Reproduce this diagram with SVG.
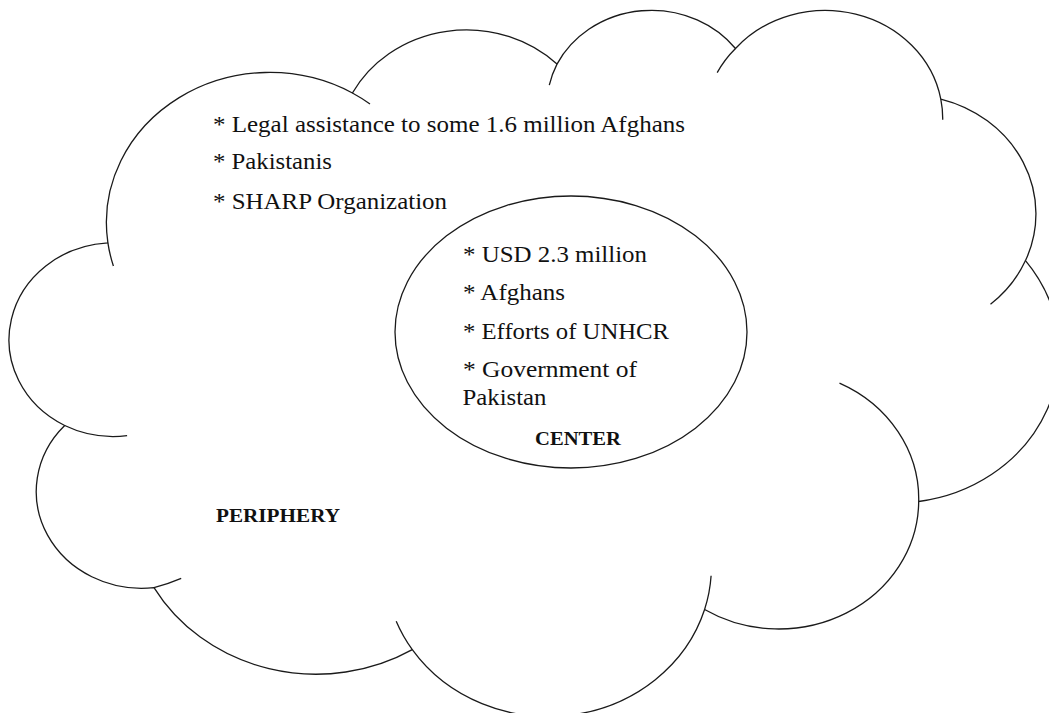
<svg xmlns="http://www.w3.org/2000/svg" width="1049" height="713" viewBox="0 0 1049 713">
  <style>
    .outline { fill: #ffffff; stroke: #1a1a1a; stroke-width: 1.3; stroke-linejoin: round; }
    .seam { fill: none; stroke: #1a1a1a; stroke-width: 1.3; stroke-linecap: butt; }
    .item { font-family: "Liberation Serif", "Times New Roman", serif; font-size: 24px; fill: #111111; }
    .head { font-family: "Liberation Serif", "Times New Roman", serif; font-size: 19px; font-weight: bold; fill: #111111; }
  </style>
  <rect width="1049" height="713" fill="#ffffff"/>

  <!-- Outer cloud: eleven elliptical lobes -->
  <g id="periphery">
    <path class="outline" d="M107.9,242.8
      A163.43,150.16 0 0 1 352.4,93.0
      A129.06,118.74 0 0 1 557.0,64.1
      A105.64,97.14 0 0 1 735.5,48.5
      A117.54,107.76 0 0 1 940.8,99.1
      A129.06,118.84 0 0 1 1025.5,260.6
      A163.96,150.65 0 0 1 918.7,501.5
      A140.00,128.55 0 0 1 704.6,609.5
      A163.41,150.57 0 0 1 412.3,649.6
      A186.83,172.27 0 0 1 154.0,587.6
      A105.52,96.70 0 0 1 64.7,425.5
      A105.15,97.14 0 0 1 107.9,242.8 Z"/>
    <!-- inner continuations of the lobes where they overlap -->
    <path class="seam" d="M113.4,266.0 A163.43,150.16 0 0 1 107.9,242.8
      M352.4,93.0 A163.43,150.16 0 0 1 370,104
      M549.3,85.1 A105.64,97.14 0 0 1 557.0,64.1
      M717.2,72.6 A117.54,107.76 0 0 1 735.5,48.5
      M940.8,99.1 A117.54,107.76 0 0 1 942.7,119.8
      M1025.5,260.6 A129.06,118.84 0 0 1 990.5,304.3
      M839.5,383.1 A140.00,128.55 0 0 1 918.7,501.5
      M711.1,575.8 A163.41,150.57 0 0 1 704.6,609.5
      M412.3,649.6 A163.41,150.57 0 0 1 396.2,621.2
      M181.2,578.3 A186.83,172.27 0 0 1 154.0,587.6
      M127.1,435.7 A105.15,97.14 0 0 1 64.7,425.5"/>
    <text class="item" x="213" y="132" textLength="472" lengthAdjust="spacingAndGlyphs">* Legal assistance to some 1.6 million Afghans</text>
    <text class="item" x="213" y="168.5" textLength="119" lengthAdjust="spacingAndGlyphs">* Pakistanis</text>
    <text class="item" x="213" y="208.5" textLength="234" lengthAdjust="spacingAndGlyphs">* SHARP Organization</text>
    <text class="head" x="216" y="521.5" textLength="124" lengthAdjust="spacingAndGlyphs">PERIPHERY</text>
  </g>

  <!-- Inner ellipse -->
  <g id="center">
    <ellipse class="outline" cx="571" cy="332" rx="176" ry="136"/>
    <text class="item" x="463" y="261.5" textLength="184" lengthAdjust="spacingAndGlyphs">* USD 2.3 million</text>
    <text class="item" x="463" y="300" textLength="102" lengthAdjust="spacingAndGlyphs">* Afghans</text>
    <text class="item" x="463" y="338.5" textLength="206" lengthAdjust="spacingAndGlyphs">* Efforts of UNHCR</text>
    <text class="item" x="463" y="376.5" textLength="174" lengthAdjust="spacingAndGlyphs">* Government of</text>
    <text class="item" x="462.5" y="404.5" textLength="84" lengthAdjust="spacingAndGlyphs">Pakistan</text>
    <text class="head" x="535" y="445" textLength="86" lengthAdjust="spacingAndGlyphs">CENTER</text>
  </g>
</svg>
